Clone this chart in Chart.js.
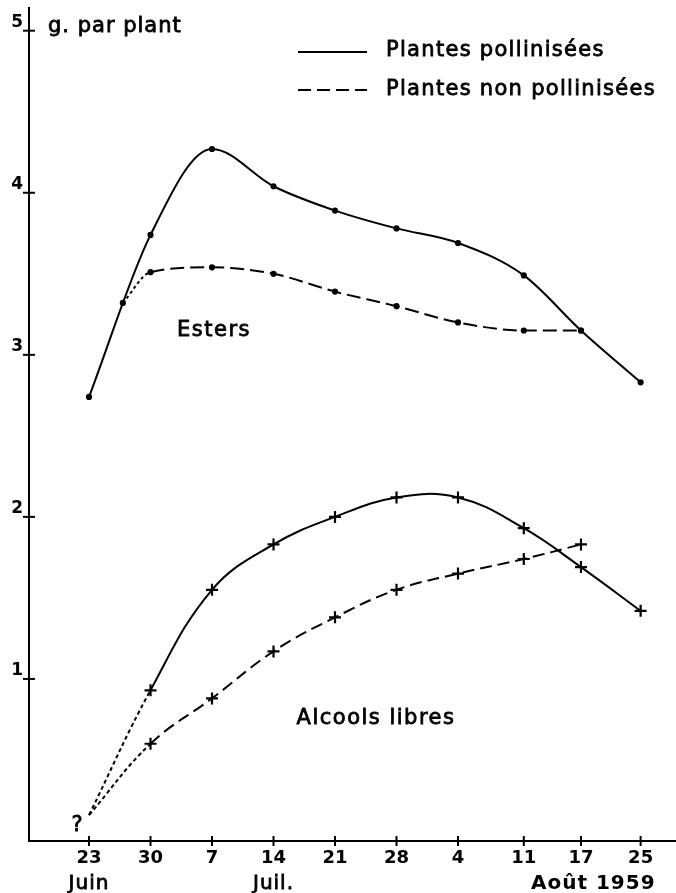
<!DOCTYPE html>
<html>
<head>
<meta charset="utf-8">
<script src="https://cdn.jsdelivr.net/npm/chart.js@4"></script>
<style>
body { margin: 0; background: #fff; }
canvas { display: block; }
</style>
</head>
<body>
<canvas id="myChart" width="676" height="893"></canvas>
<script>
// positions des relevés, en semaines depuis le 23 juin
const weeks = [0, 1, 2, 3, 4, 5, 6, 7.07, 8, 8.97];
const dayLabels = ['23', '30', '7', '14', '21', '28', '4', '11', '17', '25'];
const yTicks = [1, 2, 3, 4, 5];

const estersPoll = [2.74, 3.74, 4.27, 4.04, 3.89, 3.78, 3.69, 3.49, 3.15, 2.83];
// la courbe non pollinisée part de la courbe pollinisée entre le 23 et le 30 juin
const estersBranch = [0.55, 3.32];
const estersNonPoll = [3.51, 3.54, 3.50, 3.39, 3.30, 3.20, 3.15, 3.15];
const alcoolsPoll = [0.16, 0.93, 1.55, 1.83, 2.00, 2.12, 2.12, 1.93, 1.69, 1.42];
const alcoolsNonPoll = [0.16, 0.60, 0.88, 1.17, 1.38, 1.55, 1.65, 1.74, 1.83];

const months = ['Juin', 'Juil.', 'Août 1959'];
const monthPos = [0, 3, 8.2];
const legendLabels = ['Plantes pollinisées', 'Plantes non pollinisées'];

const FONT = '"DejaVu Sans", sans-serif';

function pts(vals, start) {
    return vals.map((v, i) => ({ x: weeks[i + start], y: v }));
}

function firstDotted(c) {
    return c.p0DataIndex === 0 ? [4, 3] : undefined;
}

const decor = {
    id: 'decor',
    afterDraw(chart) {
        const ctx = chart.ctx;
        const x = chart.scales.x;
        const y = chart.scales.y;
        ctx.save();
        ctx.strokeStyle = '#000';
        ctx.fillStyle = '#000';

        function line(x1, y1, x2, y2, dash) {
            ctx.setLineDash(dash || []);
            ctx.beginPath();
            ctx.moveTo(x1, y1);
            ctx.lineTo(x2, y2);
            ctx.stroke();
        }
        // texte un peu épaissi, comme le lettrage au normographe
        function text(s, tx, ty, thick) {
            ctx.setLineDash([]);
            ctx.fillText(s, tx, ty);
            if (thick) {
                ctx.lineWidth = thick;
                ctx.strokeText(s, tx, ty);
            }
        }

        // petites graduations qui traversent les axes
        ctx.lineWidth = 2;
        x.ticks.forEach(t => {
            const px = x.getPixelForValue(t.value);
            line(px, y.bottom - 5, px, y.bottom + 5);
        });
        y.ticks.forEach(t => {
            const py = y.getPixelForValue(t.value);
            line(x.left - 6, py, x.left + 6, py);
        });

        // mois sous les dates
        ctx.textAlign = 'center';
        ctx.textBaseline = 'alphabetic';
        ctx.letterSpacing = '1px';
        months.forEach((m, i) => {
            ctx.font = (i === 2 ? 'bold ' : '') + '20px ' + FONT;
            text(m, x.getPixelForValue(monthPos[i]), 889, i === 2 ? 0 : 0.8);
        });

        // textes
        ctx.font = '21px ' + FONT;
        ctx.letterSpacing = '1px';
        ctx.textAlign = 'left';
        text('g. par plant', 48, 32, 0.8);
        ctx.letterSpacing = '1.5px';
        ctx.textAlign = 'center';
        text('Esters', 214, 336, 0.8);
        text('Alcools libres', 376, 724, 0.8);
        ctx.letterSpacing = '0px';
        text('?', 77, 831, 0.8);

        // légende
        ctx.lineWidth = 2;
        line(298, 52, 367, 52);
        line(298, 90, 367, 90, [13, 6]);
        ctx.letterSpacing = '1.3px';
        ctx.textAlign = 'left';
        text(legendLabels[0], 386, 56, 0.8);
        text(legendLabels[1], 386, 95, 0.8);
        ctx.restore();
    }
};

const ctx = document.getElementById('myChart');
new Chart(ctx, {
    type: 'line',
    data: {
        datasets: [
            {
                label: 'Esters - pollinisées',
                data: pts(estersPoll, 0),
                cubicInterpolationMode: 'monotone',
                pointStyle: 'circle',
                pointRadius: 2
            },
            {
                label: 'Esters - non pollinisées',
                data: [{ x: estersBranch[0], y: estersBranch[1] }].concat(pts(estersNonPoll, 1)),
                cubicInterpolationMode: 'monotone',
                borderDash: [14, 6],
                segment: { borderDash: c => c.p0DataIndex === 0 ? [3, 3] : undefined },
                pointStyle: 'circle',
                pointRadius: 2
            },
            {
                label: 'Alcools libres - pollinisées',
                data: pts(alcoolsPoll, 0),
                tension: 0.4,
                segment: { borderDash: firstDotted },
                pointStyle: 'cross',
                pointRadius: [0, 6, 6, 6, 6, 6, 6, 6, 6, 6]
            },
            {
                label: 'Alcools libres - non pollinisées',
                data: pts(alcoolsNonPoll, 0),
                tension: 0.4,
                borderDash: [12, 6],
                segment: { borderDash: firstDotted },
                pointStyle: 'cross',
                pointRadius: [0, 6, 6, 6, 6, 6, 6, 6, 6]
            }
        ]
    },
    options: {
        responsive: false,
        animation: false,
        devicePixelRatio: 1,
        layout: { padding: { top: 8, left: 0, right: 0, bottom: 0 }, autoPadding: false },
        elements: {
            line: { borderColor: '#000', borderWidth: 2, fill: false },
            point: { borderColor: '#000', backgroundColor: '#000', borderWidth: 2.2, hitRadius: 0 }
        },
        plugins: {
            legend: { display: false },
            tooltip: { enabled: false }
        },
        scales: {
            x: {
                type: 'linear',
                min: -0.976,
                max: 9.545,
                afterFit: s => { s.height = 52; s.paddingLeft = 0; s.paddingRight = 0; },
                afterBuildTicks: s => { s.ticks = weeks.map(v => ({ value: v })); },
                grid: { display: false, drawTicks: false },
                border: { display: true, color: '#000', width: 2 },
                ticks: {
                    autoSkip: false,
                    maxRotation: 0,
                    padding: 7,
                    color: '#000',
                    font: { family: FONT, size: 18, weight: 'bold' },
                    callback: (v, i) => dayLabels[i]
                }
            },
            y: {
                type: 'linear',
                min: 0,
                max: 5.14,
                afterFit: s => { s.width = 29; s.paddingTop = 0; s.paddingBottom = 0; },
                afterBuildTicks: s => { s.ticks = yTicks.map(v => ({ value: v })); },
                grid: { display: false, drawTicks: false },
                border: { display: true, color: '#000', width: 2 },
                ticks: {
                    padding: 6,
                    labelOffset: -8,
                    color: '#000',
                    font: { family: FONT, size: 17, weight: 'bold' },
                    callback: v => String(v)
                }
            }
        }
    },
    plugins: [decor]
});
</script>
</body>
</html>
